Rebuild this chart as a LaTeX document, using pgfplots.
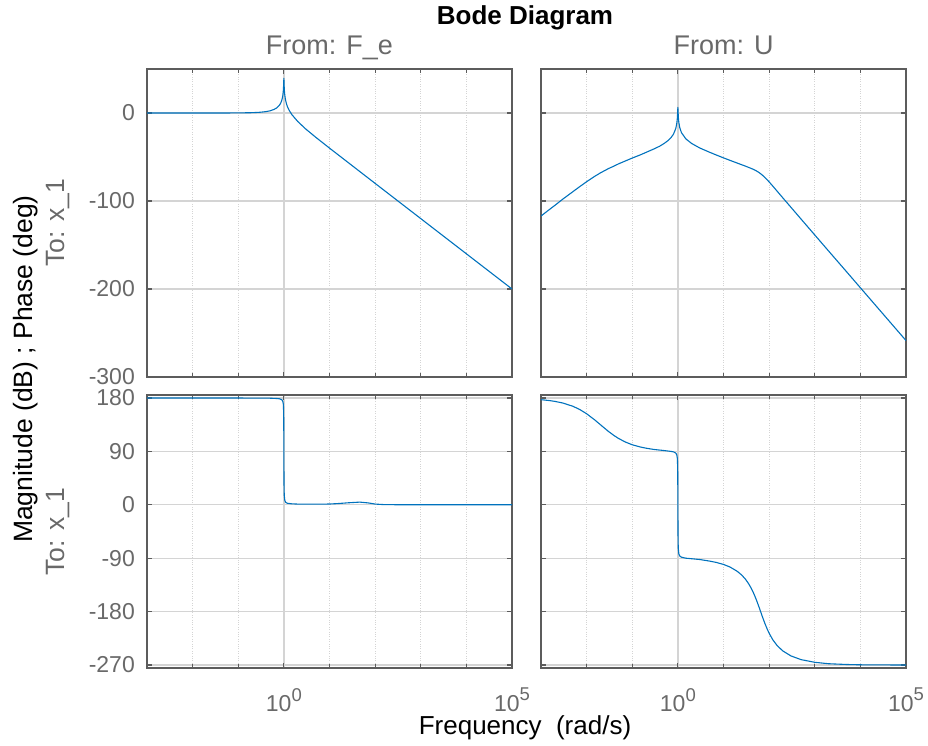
\documentclass[border=0pt]{standalone}
\usepackage{fontspec}
\setmainfont{Liberation Sans}
\usepackage{pgfplots}
\pgfplotsset{compat=1.18}

\definecolor{axgray}{RGB}{92,92,92}
\definecolor{txgray}{RGB}{105,105,105}
\definecolor{gridgray}{RGB}{212,212,212}
\definecolor{mblue}{RGB}{0,114,189}

\newcommand\sups[1]{\raisebox{10.5pt}{\fontsize{18.5}{18.5}\selectfont #1}}

\pgfplotsset{
  bodebase/.style={
    scale only axis, width=365pt,
    xmin=1e-3, xmax=1e5,
    xtick={1,1e5},
    minor xtick={1e-2,1e-1,1e1,1e2,1e3,1e4},
    axis line style={axgray, line width=1.7pt},
    tick style={axgray, line width=1.2pt},
    major tick length=5pt, minor tick length=4pt,
    tick align=inside,
    xmajorgrids, xminorgrids, ymajorgrids,
    major grid style={gridgray, line width=1.3pt},
    minor grid style={gridgray, dotted, line width=1pt},
    tick label style={font=\fontsize{23}{27}\selectfont, text=txgray},
    yticklabel style={anchor=east, inner sep=0pt, xshift=-12pt},
    xticklabel style={anchor=north, inner sep=0pt, yshift=-20pt},
  },
  magax/.style={bodebase, height=308pt, ymin=-300, ymax=50,
    ytick={-300,-200,-100,0}, xticklabels={}},
  phaax/.style={bodebase, height=273pt, ymin=-275, ymax=185,
    ytick={-270,-180,-90,0,90,180},
    xticklabels={{10\sups{0}},{10\sups{5}}}},
  blueline/.style={color=mblue, line width=1.1pt, no markers, line join=round},
}

\begin{document}
\begin{tikzpicture}

% top left: magnitude, From F_e
\begin{semilogxaxis}[magax, at={(147pt,369pt)}, anchor=south west,
  yticklabels={-300,-200,-100,0}]
\addplot[blueline] coordinates {
(0.001,0) (0.01,0) (0.05,0.02) (0.1,0.09) (0.2,0.35) (0.3,0.82) (0.4,1.5)
(0.5,2.5) (0.6,3.9) (0.7,5.85) (0.8,8.9) (0.85,11.1) (0.9,14.4) (0.93,17.4)
(0.95,20.2) (0.97,24.6) (0.98,28) (0.99,33.0) (0.995,36.7) (1.0,39.5)
(1.005,36.7) (1.01,33.0) (1.02,27.9) (1.03,24.3) (1.05,19.8) (1.08,15.6)
(1.1,13.6) (1.15,9.8) (1.2,7.1) (1.3,3.2) (1.5,-1.9) (2,-9.5) (3,-18.1)
(5,-27.6) (10,-39.9) (100,-80) (1000,-120) (10000,-160) (100000,-200)
};
\end{semilogxaxis}

% top right: magnitude, From U
\begin{semilogxaxis}[magax, at={(541pt,369pt)}, anchor=south west, yticklabels={}]
\addplot[blueline] coordinates {
(0.001,-117.1) (0.0015,-110.0) (0.002,-105.1) (0.003,-97.9) (0.005,-89.4)
(0.007,-83.8) (0.01,-78.1) (0.015,-72.0) (0.02,-68.1) (0.03,-63.2)
(0.04,-60.3) (0.05,-57.8) (0.07,-54.6) (0.1,-51.2) (0.15,-47.6)
(0.2,-44.8) (0.3,-40.8) (0.4,-37.7) (0.5,-34.6) (0.6,-31.6) (0.7,-28.3)
(0.8,-24.1) (0.9,-17.6) (0.95,-11.3) (0.97,-6.8) (0.98,-3.3) (0.99,1.8)
(0.995,4.2) (1,6.4) (1.005,4.2) (1.01,1.9) (1.02,-3.0) (1.03,-6.5)
(1.05,-10.9) (1.1,-16.7) (1.2,-22.4) (1.5,-29.5) (2,-34.6) (3,-39.7)
(5,-44.7) (7,-47.8) (10,-51.0) (14,-53.9) (20,-56.9) (25,-58.8)
(30,-60.3) (35,-61.7) (40,-62.9) (45,-64.0) (50,-65.2) (55,-66.4)
(60,-67.7) (65,-69.0) (70,-70.3) (80,-73.1) (90,-75.8) (100,-78.3)
(120,-83.0) (150,-88.9) (200,-96.5) (300,-107.1) (500,-120.5)
(1000,-138.6) (2000,-156.7) (5000,-180.5) (10000,-198.6) (100000,-258.6)
};
\end{semilogxaxis}

% bottom left: phase, From F_e
\begin{semilogxaxis}[phaax, at={(147pt,78pt)}, anchor=south west,
  yticklabels={-270,-180,-90,0,90,180}]
\addplot[blueline] coordinates {
(0.001,180) (0.1,179.9) (0.5,179.6) (0.7,179.1) (0.8,178.6) (0.9,177.1)
(0.95,174.1) (0.97,170.1) (0.98,165.3) (0.99,152.2) (0.995,133.4)
(0.998,110.7) (1,90) (1.002,69.3) (1.005,46.5) (1.01,28) (1.02,15.5)
(1.05,7) (1.1,4) (1.2,2.5) (1.5,1.6) (2,1.2) (5,1) (10,1.3) (15,2)
(25,3.3) (46,4.5) (70,3.2) (100,1.2) (150,0.4) (300,0.1) (1000,0)
(100000,0)
};
\end{semilogxaxis}

% bottom right: phase, From U
\begin{semilogxaxis}[phaax, at={(541pt,78pt)}, anchor=south west, yticklabels={}]
\addplot[blueline] coordinates {
(0.001,177.1) (0.0015,175.7) (0.002,174.3) (0.003,171.5) (0.005,166.0)
(0.007,160.7) (0.01,153.4) (0.015,143.1) (0.02,135) (0.03,123.7)
(0.04,116.6) (0.05,111.8) (0.07,105.9) (0.1,101.1) (0.15,97.4)
(0.2,95.4) (0.3,93.2) (0.5,91.4) (0.7,90.0) (0.8,89.2) (0.9,87.2)
(0.95,83.6) (0.97,79.1) (0.98,73.7) (0.99,59.4) (0.995,40.1) (1,0.2)
(1.005,-39.5) (1.01,-58.7) (1.02,-73.3) (1.05,-82.9) (1.1,-86.4)
(1.2,-88.3) (1.5,-90.0) (2,-90.9) (3,-92.2) (5,-94.9) (7,-97.2)
(10,-100.5) (14,-105.0) (20,-112.1) (25,-118.3) (30,-125.0) (35,-132.2)
(40,-139.8) (45,-147.8) (50,-156.0) (55,-164.3) (60,-172.3) (65,-179.9)
(70,-187.0) (80,-199.1) (90,-208.8) (100,-216.4) (120,-227.3)
(150,-237.3) (200,-246.3) (300,-254.6) (500,-260.9) (1000,-265.4)
(2000,-267.8) (5000,-269.1) (10000,-269.6) (100000,-270)
};
\end{semilogxaxis}

% titles and labels
\node[anchor=base, font=\bfseries\fontsize{26}{30}\selectfont] at (525pt,721pt) {Bode Diagram};
\node[anchor=base, text=txgray, font=\fontsize{27}{30}\selectfont] at (329.5pt,691pt) {From: F\_e};
\node[anchor=base, text=txgray, font=\fontsize{27}{30}\selectfont] at (723.5pt,691pt) {From: U};
\node[anchor=base, rotate=90, text=txgray, font=\fontsize{26.5}{30}\selectfont] at (64pt,523pt) {To: x\_1};
\node[anchor=base, rotate=90, text=txgray, font=\fontsize{26.5}{30}\selectfont] at (64pt,214.5pt) {To: x\_1};
\node[anchor=base, rotate=90, font=\fontsize{26.5}{30}\selectfont] at (32pt,377pt) {Magnitude (dB) ; Phase (deg)};
\node[anchor=base, font=\fontsize{26}{30}\selectfont] at (525pt,11pt) {Frequency\ \ (rad/s)};

\pgfresetboundingbox
\path (0,0) rectangle (928pt,746pt);
\end{tikzpicture}
\end{document}
